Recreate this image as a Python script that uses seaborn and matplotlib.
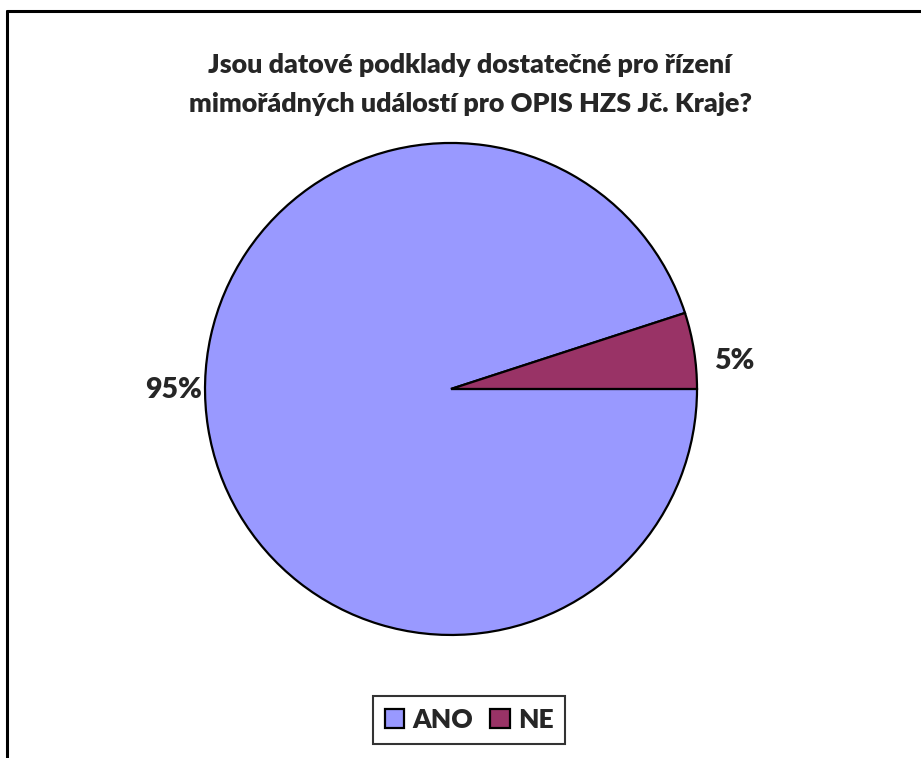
import matplotlib.pyplot as plt
import seaborn as sns
from matplotlib.lines import Line2D

labels = ['ANO', 'NE']
shares = [95, 5]
colors = ['#9999FF', '#993366']
title_lines = ["Jsou datové podklady dostatečné pro řízení",
               "mimořádných událostí pro OPIS HZS Jč. Kraje?"]

sns.set_style("white")
plt.rcParams['font.family'] = ['Lato', 'DejaVu Sans']

fig = plt.figure(figsize=(9.21, 7.58), dpi=100)
ax = fig.add_axes([0.2226, 0.1623, 0.5342, 0.6491])

wedges, texts = ax.pie(shares, colors=colors, startangle=0, counterclock=False,
                       labels=[f"{v}%" for v in shares], labeldistance=1.13,
                       wedgeprops=dict(edgecolor='black', linewidth=1.6),
                       textprops=dict(fontsize=20.5, fontweight='heavy'))
# Excel-like label placement
texts[0].set_position((-1.126, -0.037))
texts[1].set_position((1.150, 0.081))
for t in texts:
    t.set_ha('center')
    t.set_va('baseline')
ax.set_xlim(-1, 1)
ax.set_ylim(-1, 1)
ax.set_aspect('equal')

for line, base in zip(title_lines, [73, 112]):
    fig.text(470 / 921, 1 - base / 758, line, ha='center', va='baseline',
             fontsize=19.4, fontweight='heavy')

handles = [plt.Rectangle((0, 0), 1, 1, facecolor=c, edgecolor='black', linewidth=1.6)
           for c in colors]
leg = fig.legend(handles, labels, loc='center', bbox_to_anchor=(469 / 921, 1 - 720 / 758),
                 ncol=2, frameon=True, fancybox=False, edgecolor='black',
                 prop=dict(size=19, weight='heavy'), handlelength=0.75, handleheight=0.75,
                 handletextpad=0.3, columnspacing=0.65, borderpad=0.45)
leg.get_frame().set_linewidth(1.5)

# outer chart frame (cropped: only top and left edges visible)
fig.add_artist(Line2D([7 / 921, 1.0], [1 - 11 / 758, 1 - 11 / 758], color='black', linewidth=2.2))
fig.add_artist(Line2D([7 / 921, 7 / 921], [0.0, 1 - 11 / 758], color='black', linewidth=2.2))

fig.savefig("out.png", dpi=100)
